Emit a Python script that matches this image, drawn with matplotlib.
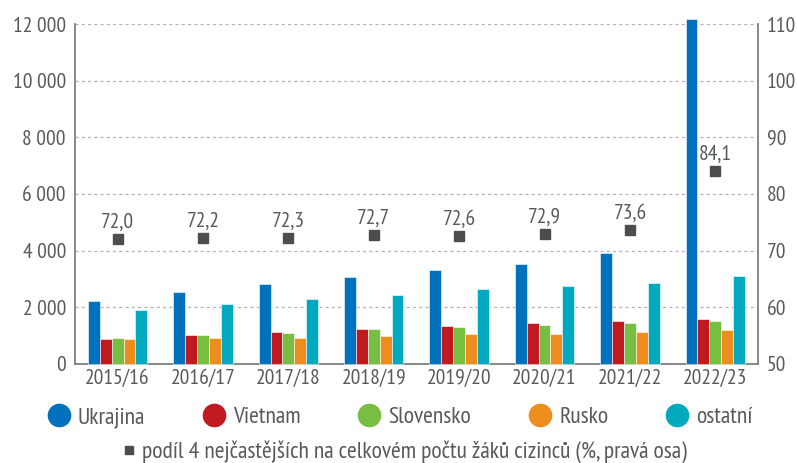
import numpy as np
import matplotlib.pyplot as plt
from matplotlib.lines import Line2D
from matplotlib.ticker import FuncFormatter

plt.rcParams['font.family'] = ['PT Sans Narrow', 'DejaVu Sans']

years = ['2015/16', '2016/17', '2017/18', '2018/19', '2019/20', '2020/21', '2021/22', '2022/23']
ukrajina = [2230, 2550, 2810, 3060, 3310, 3540, 3910, 12180]
vietnam = [880, 1020, 1130, 1220, 1330, 1430, 1510, 1580]
slovensko = [900, 1010, 1090, 1220, 1290, 1370, 1450, 1510]
rusko = [870, 930, 930, 990, 1050, 1060, 1130, 1200]
ostatni = [1910, 2120, 2280, 2430, 2640, 2750, 2860, 3110]
podil = [72.0, 72.2, 72.3, 72.7, 72.6, 72.9, 73.6, 84.1]

series = [('Ukrajina', ukrajina, '#0071bc'),
          ('Vietnam', vietnam, '#c1191f'),
          ('Slovensko', slovensko, '#78be43'),
          ('Rusko', rusko, '#ee8d1e'),
          ('ostatní', ostatni, '#00a9bd')]

txt = '#58595b'
grey = '#7f7f7f'
fs = 15.5
fs_leg = 17

fig = plt.figure(figsize=(7.97, 4.63), dpi=100)
ax = fig.add_axes([0.094, 0.214, 0.857, 0.734])
ax2 = ax.twinx()

x = np.arange(len(years))
w = 0.139
for i, (name, vals, col) in enumerate(series):
    ax.bar(x + (i - 2) * w, vals, w, color=col, edgecolor='white',
           linewidth=0.4, label=name, clip_on=False, zorder=3)

ax.set_xlim(-0.5, len(years) - 0.5)
ax.set_ylim(0, 12000)
ax.set_yticks(range(0, 12001, 2000))
ax.yaxis.set_major_formatter(FuncFormatter(lambda v, p: f'{int(v):,}'.replace(',', ' ')))
ax.set_xticks(x)
ax.set_xticklabels(years)
for v in range(2000, 12001, 2000):
    ax.axhline(v, color='#b3b3b3', lw=0.9, ls=(0, (2.5, 2.5)), zorder=1)

ax2.set_ylim(50, 110)
ax2.set_yticks(range(50, 111, 10))
ax2.plot(x, podil, ls='none', marker='s', ms=6.5, color='#4d4d4f', zorder=4)
for xi, p in zip(x, podil):
    ax2.annotate(f'{p:.1f}'.replace('.', ','), (xi, p), xytext=(0, 8),
                 textcoords='offset points', ha='center', va='baseline',
                 fontsize=fs, color=txt)

for a in (ax, ax2):
    a.tick_params(length=0, labelsize=fs, labelcolor=txt, pad=6.5)
    for s in a.spines.values():
        s.set_visible(False)
ax.tick_params(axis='x', pad=4)
ax.spines['left'].set_visible(True)
ax.spines['bottom'].set_visible(True)
ax2.spines['right'].set_visible(True)
for s in (ax.spines['left'], ax.spines['bottom'], ax2.spines['right']):
    s.set_color(grey)
    s.set_linewidth(1.3)

handles = [Line2D([], [], ls='none', marker='o', ms=16, color=c, label=n) for n, _, c in series]
fig.legend(handles=handles, loc='center left', bbox_to_anchor=(0.060, 0.099), ncol=5,
           frameon=False, fontsize=fs_leg, labelcolor=txt, handletextpad=0.34,
           columnspacing=2.45, handlelength=0.93, borderpad=0, borderaxespad=0)
sq = [Line2D([], [], ls='none', marker='s', ms=5.8, color='#4d4d4f',
             label='podíl 4 nejčastějších na celkovém počtu žáků cizinců (%, pravá osa)')]
fig.legend(handles=sq, loc='center left', bbox_to_anchor=(0.157, 0.024), frameon=False,
           fontsize=fs_leg, labelcolor=txt, handletextpad=0.38, handlelength=0.34,
           borderpad=0, borderaxespad=0)

fig.savefig('out.png', dpi=100)
